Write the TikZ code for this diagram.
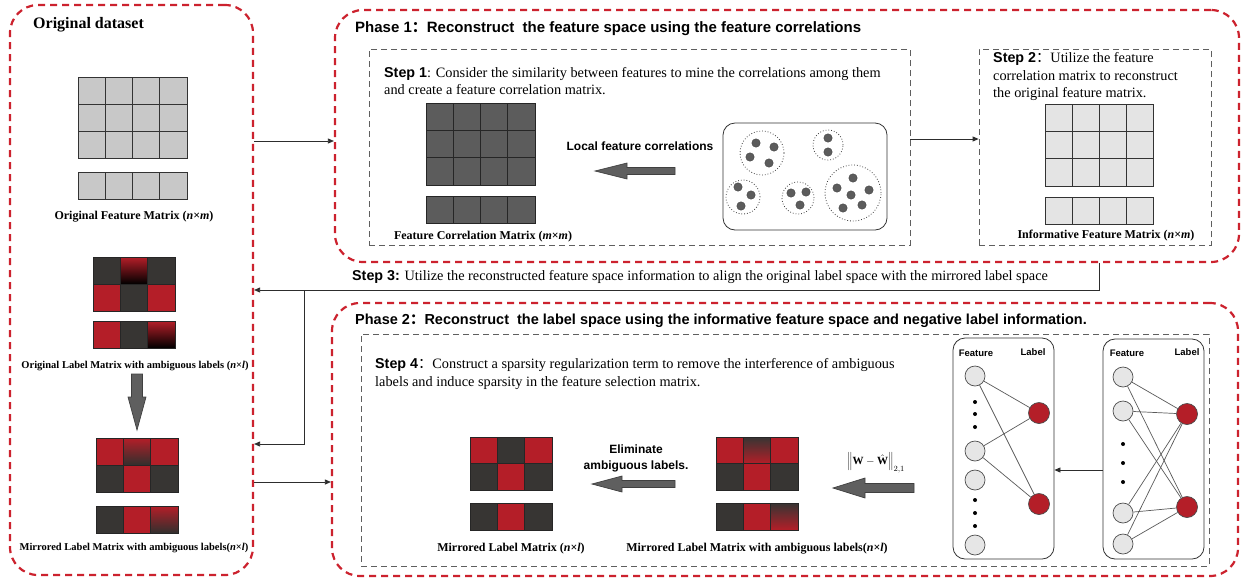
\documentclass[tikz,border=0pt]{standalone}
\usepackage{fontspec}
\setmainfont{Liberation Serif}
\setsansfont{Liberation Sans}
\newfontfamily\cjk{Noto Sans CJK SC}
\usetikzlibrary{arrows.meta}

\definecolor{dashred}{RGB}{204,34,46}
\definecolor{boxgray}{RGB}{95,95,95}
\definecolor{connc}{RGB}{45,45,45}
\definecolor{labred}{RGB}{180,30,40}
\definecolor{labdark}{RGB}{55,53,51}
\definecolor{featgray}{RGB}{200,200,200}
\definecolor{infogray}{RGB}{228,228,228}
\definecolor{corrgray}{RGB}{92,92,92}
\definecolor{arrowgray}{RGB}{95,95,95}
\definecolor{nodegray}{RGB}{230,230,230}
\definecolor{edgegray}{RGB}{90,90,90}

% one matrix cell: x, y, width, height, style
\newcommand\mcell[5]{\path[cellbox,#5] (#1,#2) rectangle ++(#3,#4);}
% thick left-pointing block arrow: tip x, tip y, length, shaft, head width, head length
\newcommand\fatleft[6]{\filldraw[fatarrow] (#1,#2) -- ++(#6,-#5/2) -- ++(0,#5/2-#4/2) -- ++(#3-#6,0) -- ++(0,#4) -- ++(-#3+#6,0) -- ++(0,#5/2-#4/2) -- cycle;}

\tikzset{
  reddash/.style={draw=dashred, line width=2.2pt, dash pattern=on 7pt off 5pt, rounded corners=28pt, inner sep=0pt},
  graydash/.style={draw=boxgray, line width=0.8pt, dash pattern=on 6pt off 4pt, inner sep=0pt},
  conn/.style={draw=connc, line width=0.8pt, -{Triangle[length=6pt,width=5pt]}},
  cellbox/.style={draw=black!80, line width=0.8pt},
  cF/.style={fill=featgray},
  cI/.style={fill=infogray},
  cC/.style={fill=corrgray, draw=black!85},
  cR/.style={fill=labred, draw=black!85},
  cD/.style={fill=labdark, draw=black!85},
  cGk/.style={top color=labred, bottom color=black, draw=black!85},
  cGd/.style={top color=labred, bottom color=labdark!90!black, draw=black!85},
  cGu/.style={top color=labdark, bottom color=labred, draw=black!85},
  fatarrow/.style={fill=arrowgray, draw=black!75, line width=0.7pt},
  lab/.style={font=\fontsize{10.5}{12}\selectfont\bfseries, inner sep=0pt},
  labbig/.style={font=\fontsize{12}{14}\selectfont\bfseries, inner sep=0pt},
  ttl/.style={font=\fontsize{15}{18}\selectfont\sffamily\bfseries, anchor=west, inner sep=0pt},
  body/.style={font=\fontsize{14.3}{17.5}\selectfont, anchor=west, align=left, inner sep=0pt},
  sanslab/.style={font=\fontsize{12}{16}\selectfont\sffamily\bfseries, inner sep=0pt, align=center},
  netlab/.style={font=\fontsize{9.5}{11}\selectfont\sffamily\bfseries, inner sep=0pt},
  dot/.style={circle, fill=corrgray, draw=black!70, line width=0.5pt, minimum size=8.4pt, inner sep=0pt},
  clus/.style={circle, draw=black!75, dotted, line width=0.8pt, inner sep=0pt},
  fnode/.style={circle, fill=nodegray, draw=black!70, line width=0.7pt, minimum size=20pt, inner sep=0pt},
  lnode/.style={circle, fill=labred, draw=black!70, line width=0.7pt, minimum size=21pt, inner sep=0pt},
  bdot/.style={circle, fill=black, minimum size=4pt, inner sep=0pt},
  edge/.style={draw=edgegray, line width=0.7pt},
  netbox/.style={draw=black!80, line width=0.8pt, rounded corners=12pt, inner sep=0pt},
}

\begin{document}
\begin{tikzpicture}[x=1pt, y=-1pt]
\useasboundingbox (0,0) rectangle (1246,579);
\fill[white] (0,0) rectangle (1246,579);

% ---------------- panels ----------------
\node[reddash, minimum width=243pt, minimum height=570pt] (orig) at (131.5,290) {};
\node[reddash, minimum width=904pt, minimum height=252pt] (ph1) at (787,136) {};
\node[reddash, minimum width=906pt, minimum height=273pt] (ph2) at (785,439.5) {};
\node[graydash, minimum width=541pt, minimum height=196pt] (s1box) at (639.5,147) {};
\node[graydash, minimum width=232pt, minimum height=196pt] (s2box) at (1095,147) {};
\node[graydash, minimum width=848pt, minimum height=232pt] (s4box) at (785,450) {};

% ---------------- original dataset ----------------
\node[font=\fontsize{16}{19}\selectfont\bfseries, anchor=west, inner sep=0pt] (origttl) at (33,25) {Original dataset};

\foreach \r in {0,1,2} \foreach \c in {0,1,2,3} \mcell{78+\c*27.25}{77+\r*27}{27.25}{27}{cF};
\foreach \c in {0,1,2,3} \mcell{78+\c*27.25}{172}{27.25}{27}{cF};
\node[labbig] (ofm) at (134,217) {Original Feature Matrix (\textit{n}×\textit{m})};

\foreach \s [count=\i from 0] in {cD,cGk,cD} \mcell{93+\i*27.3}{257}{27.3}{27}{\s};
\foreach \s [count=\i from 0] in {cR,cD,cR} \mcell{93+\i*27.3}{284}{27.3}{27}{\s};
\foreach \s [count=\i from 0] in {cR,cD,cGk} \mcell{93+\i*27.3}{321}{27.3}{27}{\s};
\node[lab] (olm) at (135,366) {Original Label Matrix with ambiguous labels (\textit{n}×\textit{l})};

\filldraw[fatarrow] (137,430) -- (128,397) -- (131.5,397) -- (131.5,374) -- (142.5,374) -- (142.5,397) -- (146,397) -- cycle;

\foreach \s [count=\i from 0] in {cR,cGd,cR} \mcell{96+\i*27.3}{438}{27.3}{27}{\s};
\foreach \s [count=\i from 0] in {cD,cR,cD} \mcell{96+\i*27.3}{465}{27.3}{27}{\s};
\foreach \s [count=\i from 0] in {cD,cR,cGd} \mcell{96+\i*27.3}{506}{27.3}{27}{\s};
\node[lab] (mlm) at (134,548) {Mirrored Label Matrix with ambiguous labels(\textit{n}×\textit{l})};

% ---------------- phase 1 ----------------
\node[ttl] (ph1ttl) at (355,29) {Phase 1{\cjk ：}Reconstruct\ \ the feature space using the feature correlations};
\node[body] (s1txt) at (384,81) {\textsf{\textbf{Step 1}}: Consider the similarity between features to mine the correlations among them\\and create a feature correlation matrix.};

\foreach \r in {0,1,2} \foreach \c in {0,1,2,3} \mcell{426+\c*27.25}{103+\r*27.33}{27.25}{27.33}{cC};
\foreach \c in {0,1,2,3} \mcell{426+\c*27.25}{196}{27.25}{27}{cC};
\node[labbig] (fcm) at (483,237) {Feature Correlation Matrix (\textit{m}×\textit{m})};

\node[sanslab] (lfc) at (640,146) {Local feature correlations};
\fatleft{595}{171}{80}{7}{16}{32}

\node[netbox, minimum width=164pt, minimum height=107pt] (clbox) at (805,176.5) {};
\node[clus, minimum size=44pt] (k1) at (762,153) {};
\node[clus, minimum size=30pt] (k2) at (828,145) {};
\node[clus, minimum size=34pt] (k3) at (743,197) {};
\node[clus, minimum size=32pt] (k4) at (798,198) {};
\node[clus, minimum size=56pt] (k5) at (853,193) {};
\foreach \p in {(756,143),(774,147),(750,157),(769,163),
                (828,138),(828,152),
                (738,187),(751,195),(741,206),
                (791,193),(806,192),(800,205),
                (853,178),(837,188),(869,190),(851,195),(843,208),(862,205)}
  \node[dot] at \p {};

\node[body] (s2txt) at (993,77) {\textsf{\textbf{Step 2}}{\cjk ：}Utilize the feature\\correlation matrix to reconstruct\\the original feature matrix.};
\foreach \r in {0,1,2} \foreach \c in {0,1,2,3} \mcell{1045+\c*27}{104+\r*27.33}{27}{27.33}{cI};
\foreach \c in {0,1,2,3} \mcell{1045+\c*27}{197}{27}{27}{cI};
\node[labbig] (ifm) at (1106,236) {Informative Feature Matrix (\textit{n}×\textit{m})};

\draw[conn] (s1box.east |- 0,139) -- (s2box.west |- 0,139);

% ---------------- step 3 ----------------
\coordinate (s3turn) at (1099,290);
\coordinate (s3split) at (304,290);
\coordinate (s3down) at (304,444);
\node[body] (s3txt) at (352,277) {\textsf{\textbf{Step 3:}} Utilize the reconstructed feature space information to align the original label space with the mirrored label space};
\draw[conn] (ph1.south -| s3turn) -- (s3turn) -- (orig.east |- s3turn);
\draw[conn] (s3split) -- (s3down) -- (orig.east |- s3down);

\draw[conn] (orig.east |- 0,141) -- (ph1.west |- 0,141);
\draw[conn] (orig.east |- 0,482) -- (ph2.west |- 0,482);

% ---------------- phase 2 ----------------
\node[ttl, font=\fontsize{14.5}{17}\selectfont\sffamily\bfseries] (ph2ttl) at (355,321) {Phase 2{\cjk ：}Reconstruct\ \ the label space using the informative feature space and negative label information.};
\node[body] (s4txt) at (375,374) {\textsf{\textbf{Step 4}}{\cjk ：}Construct a sparsity regularization term to remove the interference of ambiguous\\labels and induce sparsity in the feature selection matrix.};

\foreach \s [count=\i from 0] in {cR,cD,cR} \mcell{470+\i*27.3}{437}{27.3}{26.5}{\s};
\foreach \s [count=\i from 0] in {cD,cR,cD} \mcell{470+\i*27.3}{463.5}{27.3}{26.5}{\s};
\foreach \s [count=\i from 0] in {cD,cR,cD} \mcell{470+\i*27.3}{503}{27.3}{27}{\s};
\node[labbig] (mlm2) at (511,549) {Mirrored Label Matrix (\textit{n}×\textit{l})};

\node[sanslab] (elim) at (636,458) {Eliminate\\ambiguous labels.};
\fatleft{592}{484}{83}{7}{16}{30}

\foreach \s [count=\i from 0] in {cR,cGu,cR} \mcell{716+\i*27.3}{437}{27.3}{26.5}{\s};
\foreach \s [count=\i from 0] in {cD,cR,cD} \mcell{716+\i*27.3}{463.5}{27.3}{26.5}{\s};
\foreach \s [count=\i from 0] in {cD,cR,cGu} \mcell{716+\i*27.3}{503}{27.3}{27}{\s};
\node[labbig] (mlm3) at (757,549) {Mirrored Label Matrix with ambiguous labels(\textit{n}×\textit{l})};

\node[font=\fontsize{11}{13}\selectfont, inner sep=0pt] (norm) at (876,463) {$\left\|\mathbf{W}-\hat{\mathbf{W}}\right\|_{2,1}$};
\fatleft{833}{488}{81}{9}{20}{32}

% feature-label graphs
\node[netbox, minimum width=101pt, minimum height=221pt] (net1) at (1003.5,448.5) {};
\node[netlab] at (976,353) {Feature};
\node[netlab] at (1033,352) {Label};
\node[fnode] (a1) at (975,376) {};
\node[fnode] (a2) at (975,451) {};
\node[fnode] (a3) at (975,480) {};
\node[fnode] (a4) at (975,545) {};
\foreach \y in {402,414,427,500,513,526} \node[bdot] at (975,\y) {};
\node[lnode] (b1) at (1039,413) {};
\node[lnode] (b2) at (1039,504) {};
\foreach \f/\l in {a1/b1,a1/b2,a2/b1,a2/b2} \draw[edge] (\f) -- (\l);

\node[netbox, minimum width=101pt, minimum height=220pt] (net2) at (1153.5,449) {};
\node[netlab] at (1127,353) {Feature};
\node[netlab] at (1187,352) {Label};
\node[fnode] (c1) at (1123,377) {};
\node[fnode] (c2) at (1123,411) {};
\node[fnode] (c3) at (1123,513) {};
\node[fnode] (c4) at (1123,544) {};
\foreach \y in {444,463,482} \node[bdot] at (1123,\y) {};
\node[lnode] (d1) at (1187,414) {};
\node[lnode] (d2) at (1187,507) {};
\foreach \f in {c1,c2,c3,c4} {\draw[edge] (\f) -- (d1); \draw[edge] (\f) -- (d2);}

\draw[conn] (net2.west |- 0,470) -- (net1.east |- 0,470);
\end{tikzpicture}
\end{document}
